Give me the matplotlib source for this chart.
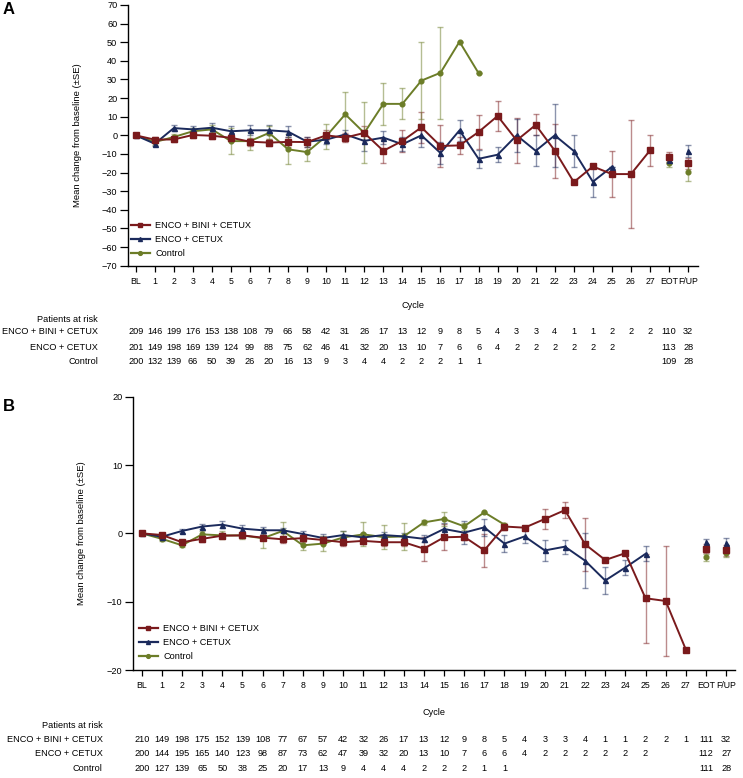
import numpy as np
import matplotlib
matplotlib.use('Agg')
import matplotlib.pyplot as plt
from matplotlib.lines import Line2D
from matplotlib.transforms import blended_transform_factory

plt.rcParams['font.family'] = ['Liberation Sans', 'DejaVu Sans']
plt.rcParams['font.size'] = 6.6

nan = np.nan
cycles = ['BL'] + [str(i) for i in range(1, 28)] + ['EOT', 'F/UP']
series_names = ['ENCO + BINI + CETUX', 'ENCO + CETUX', 'Control']
colors = ['#7a1a1c', '#1b2a5c', '#6c7d28']
markers = ['s', '^', 'o']
msizes = [3.8, 3.6, 3.4]

# ---------------- Panel A data ----------------
a_triplet = [0, -2.3, -2.2, 0.2, -0.2, -1.3, -3.4, -3.9, -3.5, -3.6, 0.0, -1.2, 1.3, -8.3, -3.0,
             4.3, -5.7, -5.4, 1.8, 10.4, -2.7, 5.6, -8.2, -25.1, -16.7, -20.8, -20.8, -8.1, -11.7, -15.1]
a_triplet_se = [0, 1.2, 1.3, 1.5, 1.5, 1.8, 2.2, 2.0, 2.5, 2.7, 2.7, 2.5, 3.8, 6.3, 6.0,
                8.2, 11.2, 4.5, 9.3, 8.0, 12.2, 5.6, 14.5, 0, 0.8, 12.4, 29.2, 8.4, 2.5, 3.0]
a_doublet = [0, -4.5, 3.9, 3.2, 4.1, 2.2, 2.7, 2.7, 2.0, -3.4, -2.3, 0.5, -3.0, -1.2, -4.8,
             0.0, -9.5, 2.7, -12.6, -10.4, 0.0, -8.3, 0.0, -8.4, -24.9, -16.9, nan, nan, -13.1, -8.4]
a_doublet_se = [0, 1.2, 1.6, 1.8, 2.4, 2.7, 2.6, 2.7, 2.9, 2.7, 2.3, 2.5, 5.4, 3.6, 3.8,
                6.3, 6.0, 5.6, 5.0, 4.0, 9.0, 8.3, 16.8, 8.4, 8.3, 0, nan, nan, 2.0, 3.4]
a_control = [0, -3.6, -0.9, 2.2, 3.2, -3.1, -3.1, 1.3, -7.5, -9.0, -0.5, 11.3, 1.3, 16.9, 16.9,
             29.4, 33.6, 50.3, 33.4, nan, nan, nan, nan, nan, nan, nan, nan, nan, -15.1, -19.9]
a_control_se = [0, 1.5, 1.8, 2.0, 2.5, 7.0, 4.7, 3.5, 8.0, 4.8, 6.6, 12.0, 16.4, 11.3, 8.3,
                20.6, 24.8, 0, 0, nan, nan, nan, nan, nan, nan, nan, nan, nan, 2.0, 4.7]

a_risk_triplet = [209, 146, 199, 176, 153, 138, 108, 79, 66, 58, 42, 31, 26, 17, 13, 12, 9, 8, 5, 4,
                  3, 3, 4, 1, 1, 2, 2, 2, 110, 32]
a_risk_doublet = [201, 149, 198, 169, 139, 124, 99, 88, 75, 62, 46, 41, 32, 20, 13, 10, 7, 6, 6, 4,
                  2, 2, 2, 2, 2, 2, None, None, 113, 28]
a_risk_control = [200, 132, 139, 66, 50, 39, 26, 20, 16, 13, 9, 3, 4, 4, 2, 2, 2, 1, 1, None,
                  None, None, None, None, None, None, None, None, 109, 28]

# ---------------- Panel B data ----------------
b_triplet = [0, -0.24, -1.3, -0.8, -0.34, -0.3, -0.63, -0.87, -0.7, -0.97, -1.3, -1.1, -1.3, -1.3, -2.24,
             -0.58, -0.5, -2.48, 1.0, 0.83, 2.1, 3.4, -1.6, -3.9, -2.9, -9.5, -9.9, -17.0, -2.24, -2.5]
b_triplet_se = [0, 0.3, 0.3, 0.4, 0.4, 0.4, 0.4, 0.5, 0.5, 0.5, 0.5, 0.4, 0.6, 0.6, 1.75,
                1.9, 0.5, 2.4, 0.5, 0.3, 1.5, 1.2, 3.9, 0, 0, 6.5, 8.1, 0, 0.7, 0.8]
b_doublet = [0, -0.5, 0.35, 1.0, 1.27, 0.69, 0.45, 0.45, -0.1, -0.68, -0.25, -0.6, -0.25, -0.45, -0.8,
             0.64, 0.1, 0.88, -1.5, -0.45, -2.5, -1.95, -4.0, -6.9, -5.0, -3.0, nan, nan, -1.3, -1.35]
b_doublet_se = [0, 0.3, 0.3, 0.3, 0.5, 0.5, 0.5, 0.4, 0.5, 0.6, 0.6, 0.6, 0.5, 0.5, 0.5,
                0.85, 1.7, 1.2, 1.27, 1.0, 1.5, 1.0, 4.0, 1.95, 1.1, 1.1, nan, nan, 0.5, 0.6]
b_control = [0, -0.8, -1.75, -0.15, -0.3, -0.3, -0.72, 0.35, -1.75, -1.5, -0.6, -0.15, -0.55, -0.45, 1.6,
             2.1, 1.03, 3.07, 1.27, nan, nan, nan, nan, nan, nan, nan, nan, nan, -3.5, -2.9]
b_control_se = [0, 0.3, 0.3, 0.5, 0.6, 0.5, 1.4, 1.3, 0.7, 1.1, 0.9, 1.75, 1.8, 2.0, 0.4,
                1.0, 0.5, 0, 0, nan, nan, nan, nan, nan, nan, nan, nan, nan, 0.5, 0.6]

b_risk_triplet = [210, 149, 198, 175, 152, 139, 108, 77, 67, 57, 42, 32, 26, 17, 13, 12, 9, 8, 5, 4,
                  3, 3, 4, 1, 1, 2, 2, 1, 111, 32]
b_risk_doublet = [200, 144, 195, 165, 140, 123, 98, 87, 73, 62, 47, 39, 32, 20, 13, 10, 7, 6, 6, 4,
                  2, 2, 2, 2, 2, 2, None, None, 112, 27]
b_risk_control = [200, 127, 139, 65, 50, 38, 25, 20, 17, 13, 9, 4, 4, 4, 2, 2, 2, 1, 1, None,
                  None, None, None, None, None, None, None, None, 111, 28]

W, H = 743, 778
fig = plt.figure(figsize=(W / 100, H / 100), dpi=100)
FS = 6.6


def fx(x):
    return x / W


def fy(y):
    return 1 - y / H


def panel(rect_px, ylim, yticks, series, ses, risks, xlim, letter, letter_y,
          ylabel_x, cycle_y, par_y, row_ys, rowlabel_x, legend_anchor):
    l, t, r, b = rect_px
    ax = fig.add_axes([fx(l), fy(b), (r - l) / W, (b - t) / H])
    x = np.arange(len(cycles))
    for k in range(3):
        y = np.array(series[k], dtype=float)
        se = np.nan_to_num(np.array(ses[k], dtype=float))
        m = ~np.isnan(y)
        ax.errorbar(x[m], y[m], yerr=se[m], fmt='none', ecolor=colors[k], alpha=0.5,
                    elinewidth=1.0, capsize=2.2, capthick=1.0, zorder=2)
        ax.plot(x[:28], y[:28], color=colors[k], lw=1.4, marker=markers[k],
                ms=msizes[k], zorder=3 + (2 - k) * 0.1)
        ax.plot(x[28:], y[28:], color=colors[k], lw=0, marker=markers[k],
                ms=msizes[k], zorder=3 + (2 - k) * 0.1)
    ax.set_xlim(*xlim)
    ax.set_ylim(*ylim)
    ax.set_yticks(yticks)
    ax.set_xticks(x)
    ax.set_xticklabels(cycles)
    for s in ['top', 'right']:
        ax.spines[s].set_visible(False)
    for s in ['left', 'bottom']:
        ax.spines[s].set_linewidth(1.0)
    ax.tick_params(axis='x', direction='out', length=4.3, width=0.9, labelsize=6.3, pad=3.5)
    ax.tick_params(axis='y', direction='out', length=5.5, width=0.9, labelsize=6.6, pad=2)
    fig.text(fx(ylabel_x), fy((t + b) / 2), 'Mean change from baseline (\u00b1SE)',
             rotation=90, ha='center', va='center', fontsize=6.8)
    handles = [Line2D([], [], color=colors[k], marker=markers[k], ms=msizes[k] * 0.8, lw=1.6)
               for k in range(3)]
    ax.legend(handles, series_names, loc='upper left', bbox_to_anchor=legend_anchor,
              frameon=False, fontsize=FS, handlelength=2.1, handletextpad=0.6,
              labelspacing=0.55, borderpad=0, borderaxespad=0)
    fig.text(fx((l + r) / 2), fy(cycle_y), 'Cycle', ha='center', va='center', fontsize=FS)
    fig.text(fx(rowlabel_x), fy(par_y), 'Patients at risk', ha='right', va='center', fontsize=FS)
    trans = blended_transform_factory(ax.transData, fig.transFigure)
    for k in range(3):
        fig.text(fx(rowlabel_x), fy(row_ys[k]), series_names[k], ha='right', va='center', fontsize=FS)
        for i, v in enumerate(risks[k]):
            if v is not None:
                ax.text(i, fy(row_ys[k]), str(v), transform=trans, ha='center', va='center',
                        fontsize=FS, clip_on=False)
    fig.text(fx(3), fy(letter_y), letter, fontsize=12, fontweight='bold', ha='left', va='center')
    return ax


panel((127.7, 5, 698, 265.7), (-70, 70), np.arange(-70, 71, 10),
      [a_triplet, a_doublet, a_control], [a_triplet_se, a_doublet_se, a_control_se],
      [a_risk_triplet, a_risk_doublet, a_risk_control], (-0.42, 29.52), 'A', 9,
      78, 305, 319, [331.7, 347, 361.7], 98, (0.005, 0.172))

panel((132.7, 396.7, 735, 670), (-20, 20), [-20, -10, 0, 10, 20],
      [b_triplet, b_doublet, b_control], [b_triplet_se, b_doublet_se, b_control_se],
      [b_risk_triplet, b_risk_doublet, b_risk_control], (-0.447, 29.44), 'B', 406,
      81.7, 712.7, 726, [739.3, 754, 768.7], 102.7, (0.01, 0.168))

fig.savefig('out.png', dpi=100)
